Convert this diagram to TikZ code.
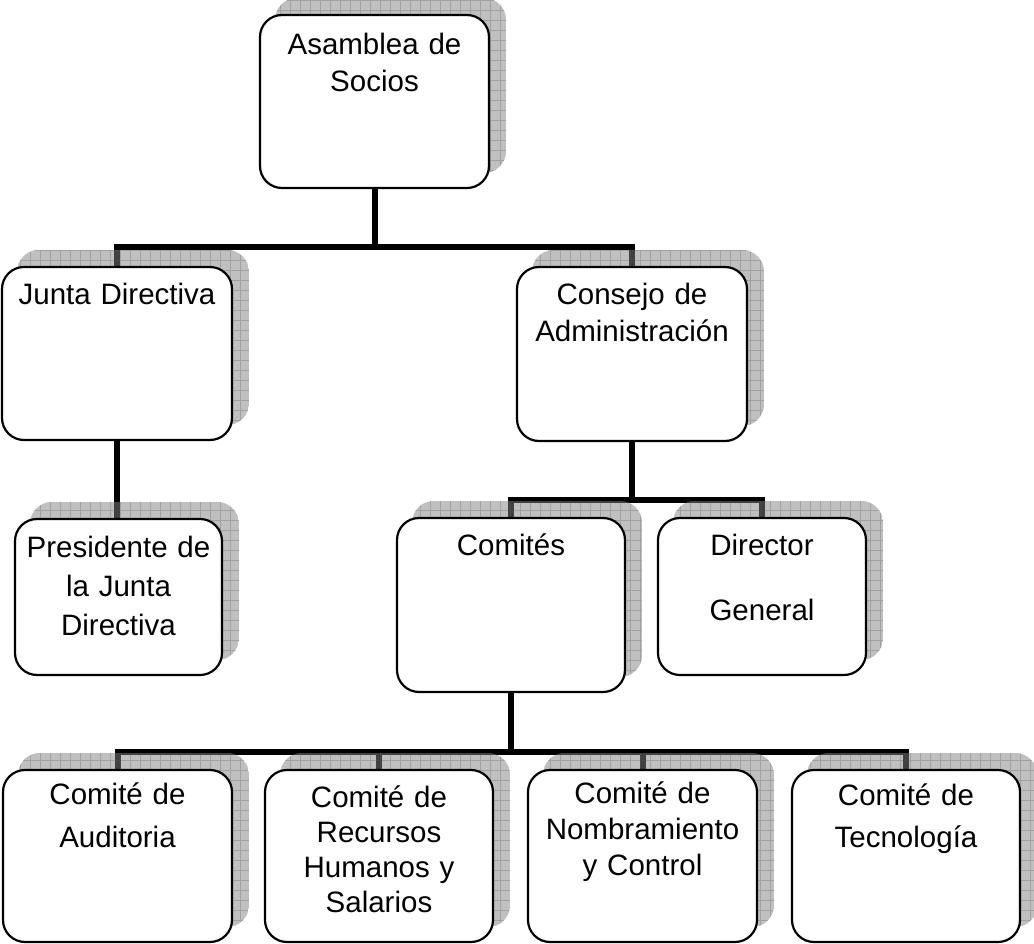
\documentclass[tikz,border=0pt]{standalone}
\usepackage{fontspec}
\setmainfont{Liberation Sans}
\pgfdeclarelayer{lines}
\pgfdeclarelayer{shadow}
\pgfsetlayers{lines,shadow,main}
\definecolor{shfill}{RGB}{130,130,130}
\definecolor{shgrid}{RGB}{90,90,90}
\tikzset{
 box/.style={draw, line width=2.2pt, rounded corners=22pt, fill=white, inner sep=0pt},
 lbl/.style={anchor=base, align=center, text width=215pt, inner sep=0pt, font=\fontsize{29.5}{#1}\selectfont},
 lbl/.default=37,
 conn/.style={line width=6pt, line join=miter},
 shfillstyle/.style={fill=shfill, fill opacity=0.5},
 shgridstyle/.style={draw=shgrid, line width=0.5pt, draw opacity=0.3},
}
\newcommand\orgbox[5]{\node[box, minimum width={(#4-#2)*1pt}, minimum height={(#5-#3)*1pt}] (#1) at ({(#2+#4)/2},{(#3+#5)/2}) {};}
\begin{document}
\begin{tikzpicture}[x=1pt,y=-1pt]
\useasboundingbox (0,0) rectangle (1034,944);
% boxes
\orgbox{asamblea}{260}{15}{489}{188}
\orgbox{junta}{2}{267}{232}{440}
\orgbox{consejo}{517}{267}{747}{441}
\orgbox{presidente}{15}{519}{222}{675}
\orgbox{comites}{397}{518}{625}{692}
\orgbox{director}{658}{518}{866}{675}
\orgbox{auditoria}{3}{770}{232}{942}
\orgbox{rrhh}{265}{770}{493}{942}
\orgbox{nombra}{528}{770}{757}{942}
\orgbox{tecno}{792}{770}{1020}{942}
% texts
\node[lbl] (asamblea-t) at (asamblea.center |- 0,55) {Asamblea de\\Socios};
\node[lbl] (junta-t) at (junta.center |- 0,305) {Junta Directiva};
\node[lbl] (consejo-t) at (consejo.center |- 0,305) {Consejo de\\Administración};
\node[lbl=39] (presidente-t) at (presidente.center |- 0,557) {Presidente de\\la Junta\\Directiva};
\node[lbl] (comites-t) at (comites.center |- 0,555) {Comités};
\node[lbl=65] (director-t) at (director.center |- 0,555) {Director\\General};
\node[lbl=43] (auditoria-t) at (auditoria.center |- 0,804) {Comité de\\Auditoria};
\node[lbl=35] (rrhh-t) at (rrhh.center |- 0,807) {Comité de\\Recursos\\Humanos y\\Salarios};
\node[lbl=36] (nombra-t) at (nombra.center |- 0,803) {Comité de\\Nombramiento\\y Control};
\node[lbl=42] (tecno-t) at (tecno.center |- 0,805) {Comité de\\Tecnología};
% shadows
\begin{pgfonlayer}{shadow}
\foreach \n in {asamblea,junta,consejo,presidente,comites,director,auditoria,rrhh,nombra,tecno}{
  \begin{scope}
   \clip[rounded corners=22pt] ([shift={(16,-16)}]\n.south west) rectangle ([shift={(16,-16)}]\n.north east);
   \fill[shfillstyle] ([shift={(16,-16)}]\n.south west) rectangle ([shift={(16,-16)}]\n.north east);
   \draw[shgridstyle, step=10pt] ([shift={(16,-16)}]\n.south west) grid ([shift={(16,-16)}]\n.north east);
  \end{scope}
}
\end{pgfonlayer}
% connectors
\begin{pgfonlayer}{lines}
\coordinate (bus1) at (0,247);
\coordinate (bus2) at (0,500);
\coordinate (bus3) at (0,752);
\draw[conn] (asamblea.south) -- (asamblea.south |- bus1);
\draw[conn] (junta.north) -- (junta.north |- bus1) -- (consejo.north |- bus1) -- (consejo.north);
\draw[conn] (junta.south) -- (junta.south |- presidente.north);
\draw[conn] (consejo.south) -- (consejo.south |- bus2);
\draw[conn] (comites.north) -- (comites.north |- bus2) -- (director.north |- bus2) -- (director.north);
\draw[conn] (comites.south) -- (comites.south |- bus3);
\draw[conn] (auditoria.north) -- (auditoria.north |- bus3) -- (tecno.north |- bus3) -- (tecno.north);
\draw[conn] (rrhh.north) -- (rrhh.north |- bus3);
\draw[conn] (nombra.north) -- (nombra.north |- bus3);
\end{pgfonlayer}
\end{tikzpicture}
\end{document}
